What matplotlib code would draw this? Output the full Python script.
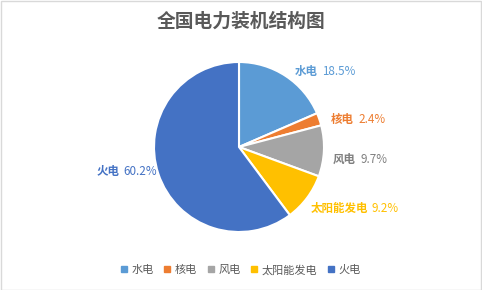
import matplotlib
matplotlib.use("Agg")
import matplotlib.pyplot as plt
from matplotlib.lines import Line2D
from matplotlib.patches import Rectangle

plt.rcParams['font.family'] = ['Noto Sans CJK SC', 'DejaVu Sans']

names = ["水电", "核电", "风电", "太阳能发电", "火电"]
shares = [18.5, 2.4, 9.7, 9.2, 60.2]
colors = ["#5B9BD5", "#ED7D31", "#A5A5A5", "#FFC000", "#4472C4"]
label_colors = ["#5B9BD5", "#ED7D31", "#7F7F7F", "#FFC000", "#4472C4"]

# label anchor (boundary between name and percent), in pie units
label_pos = [(0.95, 0.89), (1.38, 0.32), (1.40, -0.15), (1.54, -0.72), (-1.38, -0.29)]

W, H = 482, 290
fig = plt.figure(figsize=(W / 100, H / 100), dpi=100)
fig.patches.append(Rectangle((0.5 / W, 0.5 / H), 1 - 1.5 / W, 1 - 1.5 / H,
                             transform=fig.transFigure, fill=False,
                             edgecolor="#D9D9D9", linewidth=1))

cx, cy, r = 239, 147, 85
ax = fig.add_axes([(cx - r) / W, (H - cy - r) / H, 2 * r / W, 2 * r / H])
ax.pie(shares, colors=colors, startangle=90, counterclock=False,
       wedgeprops=dict(edgecolor="white", linewidth=1.5))
ax.set_xlim(-1, 1)
ax.set_ylim(-1, 1)
ax.set_aspect("equal")
ax.axis("off")

for name, v, c, (x, y) in zip(names, shares, label_colors, label_pos):
    ax.annotate(name, (x, y), xytext=(-1.5, 0), textcoords="offset points",
                ha="right", va="center", fontsize=8.3, fontweight="bold",
                color=c, annotation_clip=False)
    ax.annotate(f"{v}%", (x, y), xytext=(1.5, 0), textcoords="offset points",
                ha="left", va="center", fontsize=8.4, color=c,
                annotation_clip=False)

fig.text(241 / W, 1 - 21 / H, "全国电力装机结构图", ha="center", va="center",
         fontsize=13.5, fontweight="bold", color="#595959")

handles = [Line2D([], [], marker="s", linestyle="", markersize=4.5,
                  markerfacecolor=c, markeredgecolor=c) for c in colors]
fig.legend(handles, names, loc="center", bbox_to_anchor=(240 / W, 1 - 270 / H),
           ncol=5, frameon=False, fontsize=8, labelcolor="#595959",
           handlelength=0.8, handletextpad=0.3, columnspacing=0.8)

fig.savefig("out.png", dpi=100)
